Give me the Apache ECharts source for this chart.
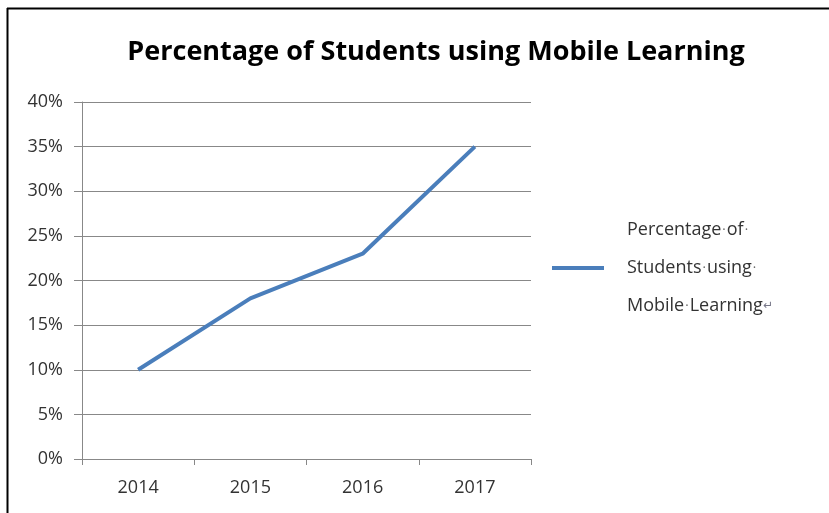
<!DOCTYPE html>
<html>
<head>
<meta charset="utf-8">
<script src="https://cdn.jsdelivr.net/npm/echarts@6/dist/echarts.min.js"></script>
<style>html,body{margin:0;padding:0;background:#fff;}#c{width:829px;height:513px;}</style>
</head>
<body>
<div id="c"></div>
<script>
var categories = ['2014', '2015', '2016', '2017'];
var seriesName = 'Percentage of Students using Mobile Learning';
var values = [10, 18, 23, 35];
var yTicks = [0, 5, 10, 15, 20, 25, 30, 35, 40];

var chart = echarts.init(document.getElementById('c'), null, {renderer: 'canvas'});
chart.setOption({
  animation: false,
  backgroundColor: '#fff',
  title: {
    text: seriesName,
    left: 431, top: 34, textAlign: 'center',
    textStyle: {fontFamily: 'Open Sans', fontWeight: 'bold', fontSize: 27, color: '#000'}
  },
  legend: {
    orient: 'vertical', left: 547, top: 216,
    icon: 'rect', itemWidth: 52, itemHeight: 4, itemGap: 10,
    data: [seriesName],
    formatter: function () {
      return '{a|Percentage}{d|·}{a|of}{d|·}\n{a|Students}{d|·}{a|using}{d|·}\n{a|Mobile}{d|·}{a|Learning}{r|↵}';
    },
    textStyle: {
      padding: [0, 0, 0, 18],
      rich: {
        a: {fontFamily: 'Open Sans', fontSize: 18, color: '#333', lineHeight: 38},
        d: {fontFamily: 'Open Sans', fontSize: 13, color: '#666', lineHeight: 38, verticalAlign: 'middle', padding: [0, 1]},
        r: {fontFamily: 'DejaVu Sans', fontSize: 12, color: '#778', lineHeight: 38}
      }
    }
  },
  grid: {left: 82, right: 298, top: 102, bottom: 54},
  xAxis: {
    type: 'category', data: categories, boundaryGap: true,
    axisLine: {lineStyle: {color: '#888', width: 1}},
    axisTick: {show: true, length: 6, lineStyle: {color: '#888'}},
    axisLabel: {fontFamily: 'Open Sans', fontSize: 18, color: '#333', margin: 20}
  },
  yAxis: {
    type: 'value', min: 0, max: 40, interval: 5,
    axisLine: {show: true, lineStyle: {color: '#888', width: 1}},
    axisTick: {show: true, length: 8, lineStyle: {color: '#888'}},
    splitLine: {lineStyle: {color: '#888', width: 1}},
    axisLabel: {fontFamily: 'Open Sans', fontSize: 18, color: '#333', margin: 19, formatter: '{value}%'}
  },
  series: [{
    name: seriesName, type: 'line', data: values,
    symbol: 'none', lineStyle: {color: '#4a7ebb', width: 4}, itemStyle: {color: '#4a7ebb'}
  }],
  graphic: [
    {type: 'line', shape: {x1: 7, y1: 8.5, x2: 829, y2: 8.5}, style: {stroke: '#000', lineWidth: 2}},
    {type: 'line', shape: {x1: 7.5, y1: 8, x2: 7.5, y2: 513}, style: {stroke: '#000', lineWidth: 2}}
  ]
});
</script>
</body>
</html>
